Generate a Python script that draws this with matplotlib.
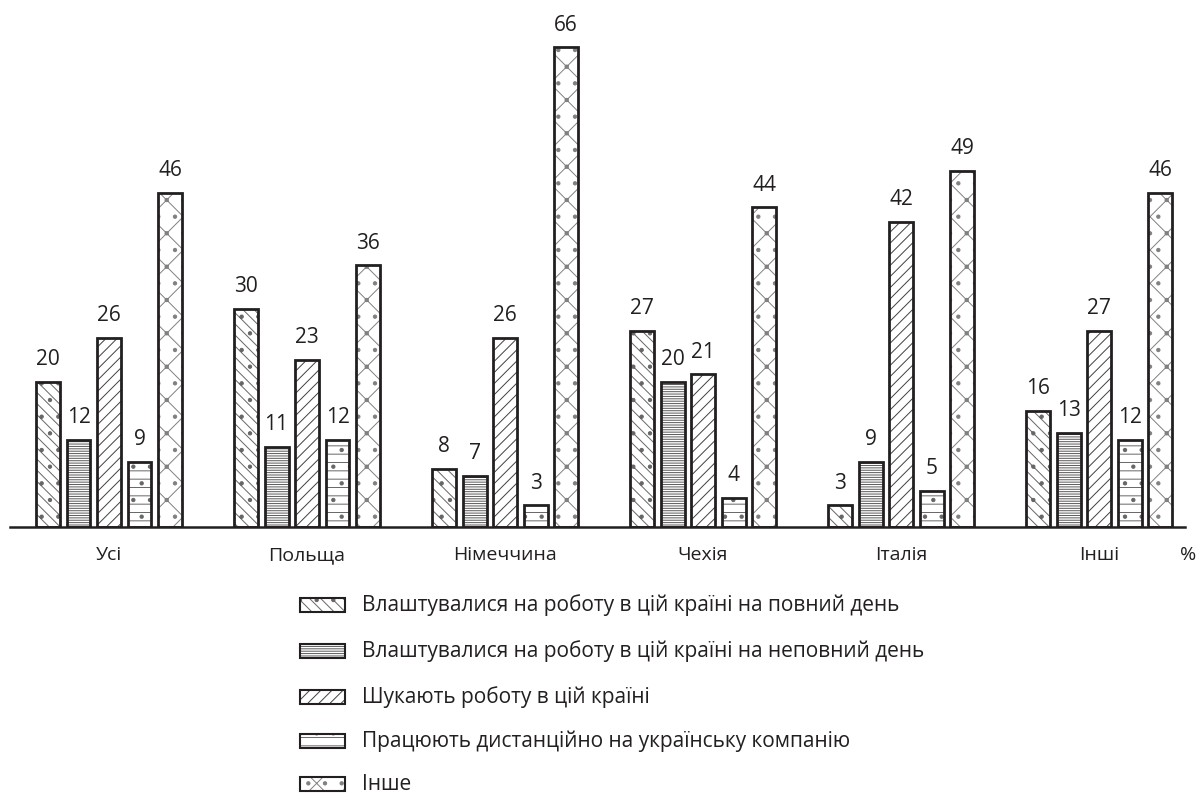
import matplotlib
matplotlib.use("Agg")
import matplotlib.pyplot as plt
from matplotlib.patches import Rectangle
import numpy as np

plt.rcParams['font.family'] = ['Open Sans', 'DejaVu Sans']
plt.rcParams['hatch.linewidth'] = 0.7

categories = ["Усі", "Польща", "Німеччина", "Чехія", "Італія", "Інші"]
series_names = [
    "Влаштувалися на роботу в цій країні на повний день",
    "Влаштувалися на роботу в цій країні на неповний день",
    "Шукають роботу в цій країні",
    "Працюють дистанційно на українську компанію",
    "Інше",
]
full_day = [20, 30, 8, 27, 3, 16]
part_day = [12, 11, 7, 20, 9, 13]
seeking = [26, 23, 26, 21, 42, 27]
remote = [9, 12, 3, 4, 5, 12]
other = [46, 36, 66, 44, 49, 46]
series = [full_day, part_day, seeking, remote, other]
hatches = ['\\\\\\.', '-------', '///', '--.', '/\\.']
hatch_colors = [(0.4, 0.4, 0.4, 1), (0.35, 0.35, 0.35, 1), (0.25, 0.25, 0.25, 1),
                (0.4, 0.4, 0.4, 1), (0.5, 0.5, 0.5, 1)]
ink = '#231f20'

fig = plt.figure(figsize=(12.01, 8.0), dpi=100)
ax = fig.add_axes([10/1201, 273/800, 1175/1201, 527/800])
x = np.arange(len(categories))
step = 0.154
width = 0.121
for i, (vals, h, hc) in enumerate(zip(series, hatches, hatch_colors)):
    pos = x + (i - 2) * step
    bars = ax.bar(pos, vals, width=width, facecolor='white', edgecolor=ink,
                  linewidth=2.0, hatch=h)
    for b in bars:
        b._hatch_color = hc
    for p, v in zip(pos, vals):
        ax.text(p, v + 1.6, str(v), ha='center', va='bottom', fontsize=15, color=ink)

ax.set_xlim(-0.5, 5.434)
ax.set_ylim(0, 72.5)
for s in ['top', 'right', 'left']:
    ax.spines[s].set_visible(False)
ax.spines['bottom'].set_linewidth(1.8)
ax.spines['bottom'].set_color(ink)
ax.set_yticks([])
ax.set_xticks(x)
ax.set_xticklabels(categories, fontsize=14, color=ink)
ax.tick_params(axis='x', length=0, pad=14)
fig.text(1188/1201, 1 - 555/800, "%", ha='center', va='center', fontsize=14, color=ink)

# legend
rows_y = [605, 651, 697, 741, 784]
for name, h, hc, yy in zip(series_names, hatches, hatch_colors, rows_y):
    r = Rectangle((300/1201, 1 - (yy + 7)/800), 45/1201, 14/800, transform=fig.transFigure,
                  facecolor='white', edgecolor=ink, linewidth=1.5, hatch=h)
    r._hatch_color = hc
    fig.add_artist(r)
    fig.text(362/1201, 1 - yy/800, name, ha='left', va='center', fontsize=15, color=ink)

fig.savefig("out.png", dpi=100, facecolor='white')
